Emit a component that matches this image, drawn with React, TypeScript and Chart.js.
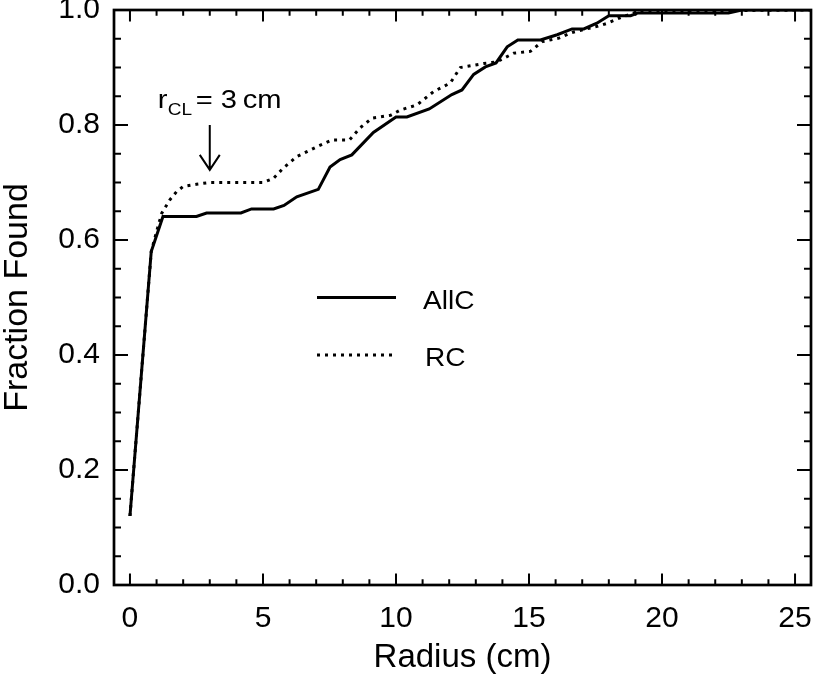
import React, { useEffect, useRef } from 'react';
import { Chart, registerables } from 'chart.js';

Chart.register(...registerables);

// ---- data ----
const radiusAllC = [0, 0.8, 1.24, 2.5, 2.88, 4.17, 4.57, 5.4, 5.79, 6.27, 7.08, 7.52, 7.9, 8.34, 9.15, 10.0, 10.41, 11.25, 12.1, 12.48, 12.92, 13.36, 13.76, 14.18, 14.58, 15.43, 16.06, 16.62, 17.06, 17.55, 18.0, 18.82, 19.1, 22.5, 23.0, 25.6];
const fractionAllC = [0.12, 0.58, 0.641, 0.641, 0.647, 0.647, 0.654, 0.654, 0.66, 0.675, 0.688, 0.727, 0.74, 0.748, 0.787, 0.814, 0.814, 0.828, 0.853, 0.861, 0.888, 0.901, 0.908, 0.936, 0.948, 0.948, 0.957, 0.967, 0.967, 0.977, 0.99, 0.99, 0.995, 0.995, 1.0, 1.0];
const radiusRC = [0, 0.8, 1.05, 1.2, 1.5, 1.75, 2.0, 2.5, 3.0, 5.0, 5.39, 5.76, 6.27, 7.02, 7.6, 8.25, 8.65, 9.1, 9.8, 10.16, 10.79, 11.41, 12.04, 12.42, 13.3, 13.8, 14.43, 15.05, 15.5, 16.12, 16.62, 17.06, 17.6, 17.95, 18.5, 18.85, 19.1, 25.6];
const fractionRC = [0.12, 0.58, 0.623, 0.647, 0.67, 0.684, 0.693, 0.697, 0.7, 0.7, 0.707, 0.725, 0.745, 0.762, 0.774, 0.774, 0.795, 0.812, 0.817, 0.826, 0.835, 0.858, 0.873, 0.9, 0.907, 0.91, 0.925, 0.928, 0.945, 0.951, 0.961, 0.966, 0.972, 0.977, 0.988, 0.993, 0.998, 1.0];

const seriesLabels = ['AllC', 'RC'];
const xTickValues = [0, 5, 10, 15, 20, 25];
const yTickValues = [0, 0.2, 0.4, 0.6, 0.8, 1.0];
const xMinorStep = 1;
const yMinorStep = 0.05;
const xRange = [-0.6, 25.6];
const yRange = [0, 1];
const xTitle = 'Radius (cm)';
const yTitle = 'Fraction Found';
const annotationRadius = 3;
const arrowFrom = 0.8;
const arrowTo = 0.722;

const FONT = "'Liberation Sans', Arial, Helvetica, sans-serif";

const framePlugin = {
  id: 'idlFrame',
  afterDatasetsDraw(chart: any) {
    const { ctx, chartArea: a, scales } = chart;
    const x = scales.x;
    const y = scales.y;
    ctx.save();
    ctx.strokeStyle = '#000';
    ctx.lineCap = 'butt';
    const seg = (x1: number, y1: number, x2: number, y2: number) => {
      ctx.beginPath();
      ctx.moveTo(x1, y1);
      ctx.lineTo(x2, y2);
      ctx.stroke();
    };
    ctx.lineWidth = 2;
    for (let v = Math.ceil(x.min); v <= x.max + 1e-9; v += xMinorStep) {
      const major = xTickValues.includes(v);
      const len = major ? 11.5 : 5.75;
      const px = x.getPixelForValue(v);
      seg(px, a.bottom, px, a.bottom - len);
      seg(px, a.top, px, a.top + len);
    }
    const n = Math.round((y.max - y.min) / yMinorStep);
    for (let i = 0; i <= n; i++) {
      const v = y.min + i * yMinorStep;
      const major = yTickValues.some((t) => Math.abs(t - v) < 1e-6);
      const len = major ? 14 : 7;
      const py = y.getPixelForValue(v);
      seg(a.left, py, a.left + len, py);
      seg(a.right, py, a.right - len, py);
    }
    ctx.lineWidth = 2.7;
    ctx.strokeRect(a.left, a.top, a.right - a.left, a.bottom - a.top);
    ctx.restore();
  },
  afterDraw(chart: any) {
    const { ctx, scales } = chart;
    const x = scales.x;
    const y = scales.y;
    const ds = chart.data.datasets;
    ctx.save();
    ctx.fillStyle = '#000';
    ctx.strokeStyle = '#000';
    ctx.textBaseline = 'alphabetic';
    ctx.textAlign = 'left';

    // legend
    const legendItems = [
      { y: 297.5, textY: 309, textX: 423 },
      { y: 355, textY: 366, textX: 425 },
    ];
    legendItems.forEach((it, i) => {
      const d = ds[i];
      ctx.save();
      ctx.lineWidth = d.borderWidth;
      ctx.setLineDash(d.borderDash || []);
      ctx.beginPath();
      ctx.moveTo(317, it.y);
      ctx.lineTo(396, it.y);
      ctx.stroke();
      ctx.restore();
      ctx.save();
      ctx.font = `26px ${FONT}`;
      ctx.translate(it.textX, it.textY);
      ctx.scale(1.08, 1);
      ctx.fillText(d.label, 0, 0);
      ctx.restore();
    });

    // annotation r_CL = 3 cm with arrow
    const ax = x.getPixelForValue(annotationRadius);
    const ay1 = y.getPixelForValue(arrowFrom);
    const ay2 = y.getPixelForValue(arrowTo);
    ctx.lineWidth = 2;
    ctx.beginPath();
    ctx.moveTo(ax, ay1);
    ctx.lineTo(ax, ay2);
    ctx.moveTo(ax - 10, ay2 - 15);
    ctx.lineTo(ax, ay2);
    ctx.lineTo(ax + 10, ay2 - 15);
    ctx.stroke();

    const base = ay1 - 16.7;
    const piece = (t: string, dx: number, by: number, size: number) => {
      ctx.save();
      ctx.font = `${size}px ${FONT}`;
      ctx.translate(ax + dx, by);
      ctx.scale(1.12, 1);
      ctx.fillText(t, 0, 0);
      ctx.restore();
    };
    piece('r', -52, base, 26);
    piece('CL', -42, base + 7, 17);
    piece('=', -14, base, 26);
    piece('3', 11, base, 26);
    piece('cm', 33, base, 26);
    ctx.restore();
  },
};

export default function App() {
  const ref = useRef<HTMLCanvasElement | null>(null);
  useEffect(() => {
    if (!ref.current) return;
    const chart = new Chart(ref.current, {
      type: 'line',
      data: {
        datasets: [
          {
            label: seriesLabels[0],
            data: radiusAllC.map((r, i) => ({ x: r, y: fractionAllC[i] })),
            borderColor: '#000',
            backgroundColor: '#000',
            borderWidth: 3,
            pointRadius: 0,
            tension: 0,
            fill: false,
          },
          {
            label: seriesLabels[1],
            data: radiusRC.map((r, i) => ({ x: r, y: fractionRC[i] })),
            borderColor: '#000',
            backgroundColor: '#000',
            borderWidth: 3,
            borderDash: [3, 5],
            borderCapStyle: 'butt',
            pointRadius: 0,
            tension: 0,
            fill: false,
          },
        ],
      },
      options: {
        responsive: false,
        animation: false,
        events: [],
        layout: { padding: { left: 0, right: 5, top: 10, bottom: 0 } },
        plugins: {
          legend: { display: false },
          tooltip: { enabled: false },
        },
        scales: {
          x: {
            type: 'linear',
            min: xRange[0],
            max: xRange[1],
            grid: { display: false, drawTicks: false },
            border: { display: false },
            afterBuildTicks: (s: any) => {
              s.ticks = xTickValues.map((v) => ({ value: v }));
            },
            afterFit: (s: any) => {
              s.height = 95;
              s.paddingLeft = 0;
              s.paddingRight = 0;
              s.paddingTop = 0;
              s.paddingBottom = 0;
            },
            ticks: {
              autoSkip: false,
              maxRotation: 0,
              color: '#000',
              padding: 19,
              font: { family: FONT, size: 30, lineHeight: 1 },
              callback: (v: any) => String(v),
            },
            title: {
              display: true,
              text: xTitle,
              color: '#000',
              font: { family: FONT, size: 33, lineHeight: 1 },
              padding: { top: 0, bottom: 6 },
            },
          },
          y: {
            type: 'linear',
            min: yRange[0],
            max: yRange[1],
            grid: { display: false, drawTicks: false },
            border: { display: false },
            afterBuildTicks: (s: any) => {
              s.ticks = yTickValues.map((v) => ({ value: v }));
            },
            afterFit: (s: any) => {
              s.width = 114;
              s.paddingLeft = 0;
              s.paddingRight = 0;
              s.paddingTop = 0;
              s.paddingBottom = 0;
            },
            ticks: {
              autoSkip: false,
              color: '#000',
              padding: 14,
              font: { family: FONT, size: 30, lineHeight: 1 },
              callback: (v: any) => Number(v).toFixed(1),
            },
            title: {
              display: true,
              text: yTitle,
              color: '#000',
              font: { family: FONT, size: 34, lineHeight: 1 },
              padding: { top: 1, bottom: 0 },
            },
          },
        },
      },
      plugins: [framePlugin],
    } as any);
    return () => chart.destroy();
  }, []);

  return (
    <div style={{ position: 'fixed', left: 0, top: 0, width: 816, height: 680, background: '#fff' }}>
      <canvas ref={ref} width={816} height={680} style={{ display: 'block' }} />
    </div>
  );
}
